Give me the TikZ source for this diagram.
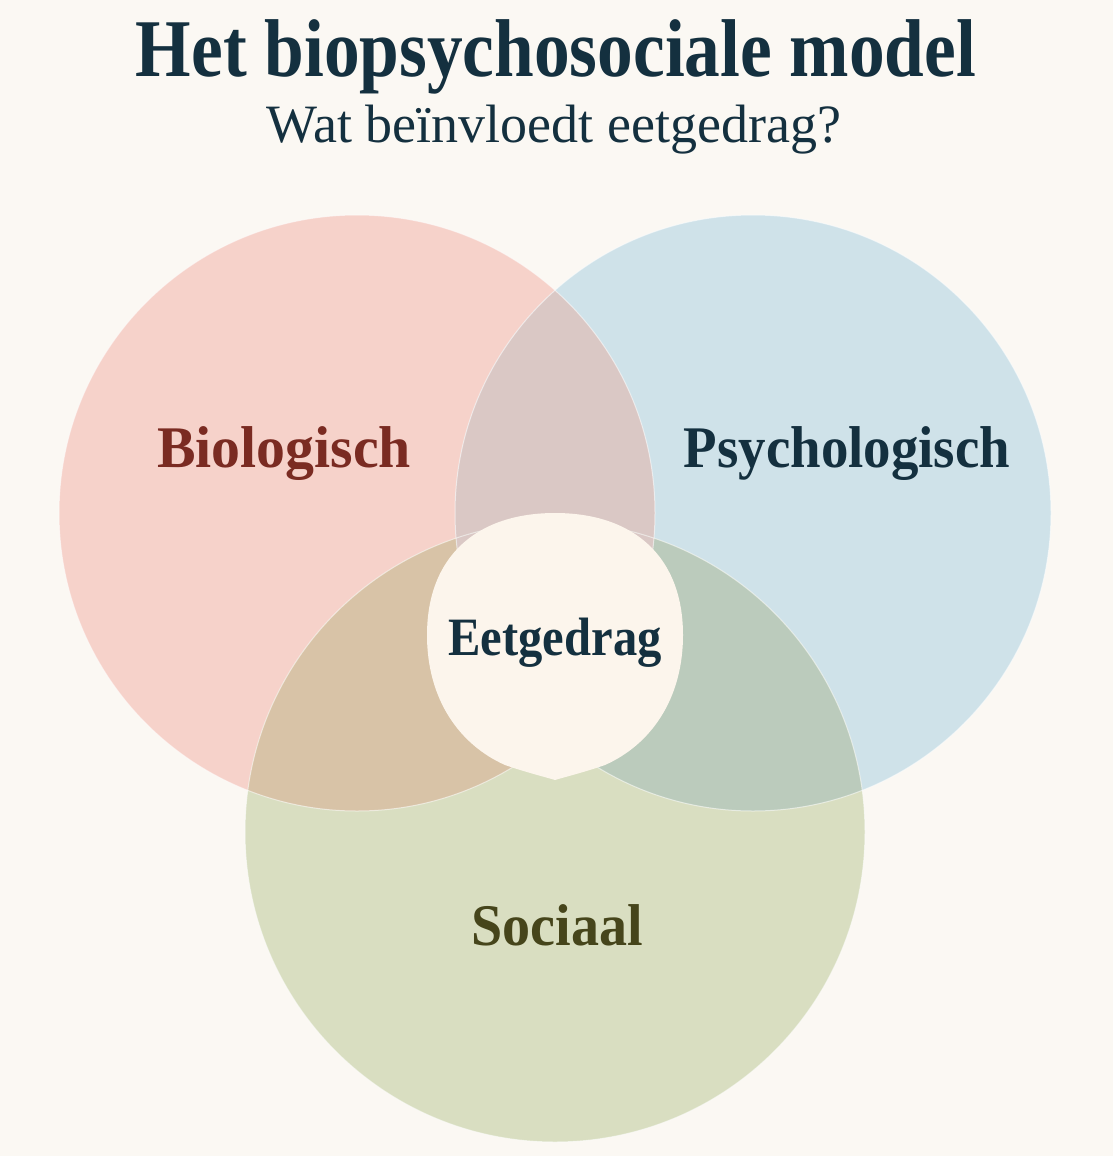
\documentclass[tikz,border=0pt]{standalone}
\usepackage{fontspec}
\usepackage{graphicx}
\setmainfont{Liberation Serif}
\usetikzlibrary{positioning}

\definecolor{paper}{HTML}{FBF8F3}
\definecolor{biofill}{HTML}{F6D2CA}
\definecolor{psyfill}{HTML}{CFE2E9}
\definecolor{socfill}{HTML}{D9DEC1}
\definecolor{biopsy}{HTML}{DAC8C5}
\definecolor{biosoc}{HTML}{D8C3A7}
\definecolor{psysoc}{HTML}{BBCBBC}
\definecolor{corefill}{HTML}{FCF5EC}
\definecolor{ink}{HTML}{14303F}
\definecolor{bioink}{HTML}{7A2B22}
\definecolor{socink}{HTML}{46451B}

\tikzset{
  rim/.style={draw=white, draw opacity=0.55, line width=1pt},
  headline/.style={anchor=base, text=ink, font=\bfseries\fontsize{82}{90}\selectfont},
  subline/.style={anchor=base, text=ink, font=\fontsize{54}{60}\selectfont},
  setname/.style={anchor=base, font=\bfseries\fontsize{59}{66}\selectfont}
}

\begin{document}
\begin{tikzpicture}[x=1pt, y=-1pt]
  \useasboundingbox (0,0) rectangle (1113,1156);
  \fill[paper] (0,0) rectangle (1113,1156);

  \fill[biofill] (357,513) circle[radius=298];
  \fill[psyfill] (753,513) circle[radius=298];
  \fill[socfill] (555,832) circle[radius=310];
  \begin{scope}
    \clip (357,513) circle[radius=298];
    \fill[biopsy] (753,513) circle[radius=298];
    \fill[biosoc] (555,832) circle[radius=310];
  \end{scope}
  \begin{scope}
    \clip (753,513) circle[radius=298];
    \fill[psysoc] (555,832) circle[radius=310];
  \end{scope}
  \begin{scope}
    \clip (357,513) circle[radius=298];
    \clip (753,513) circle[radius=298];
    \fill[biopsy] (555,832) circle[radius=310];
  \end{scope}
  \foreach \cx/\cy/\r in {357/513/298, 753/513/298, 555/832/310}
    \draw[rim] (\cx,\cy) circle[radius=\r];

  \fill[corefill] (555,780) .. controls (565,777) and (585,772) .. (605,765)
    .. controls (650,745) and (683,700) .. (683,635)
    .. controls (683,557) and (634,513) .. (555,513)
    .. controls (476,513) and (427,557) .. (427,635)
    .. controls (427,700) and (460,745) .. (505,765)
    .. controls (525,772) and (545,777) .. (555,780) -- cycle;

  \node[headline] (title) at (556,76) {\scalebox{0.87}[1]{Het biopsychosociale model}};
  \node[subline] (subtitle) at (554,142) {Wat beïnvloedt eetgedrag?};

  \node[setname, text=bioink] (bio) at (284,467) {\scalebox{0.98}[1]{Biologisch}};
  \node[setname, text=ink] (psy) at (847,467) {\scalebox{0.93}[1]{Psychologisch}};
  \node[setname, text=socink] (soc) at (557,945) {\scalebox{0.95}[1]{Sociaal}};
  \node[setname, text=ink, font=\bfseries\fontsize{54}{60}\selectfont] (core) at (555,655)
    {\scalebox{0.9}[1]{Eetgedrag}};
\end{tikzpicture}
\end{document}
